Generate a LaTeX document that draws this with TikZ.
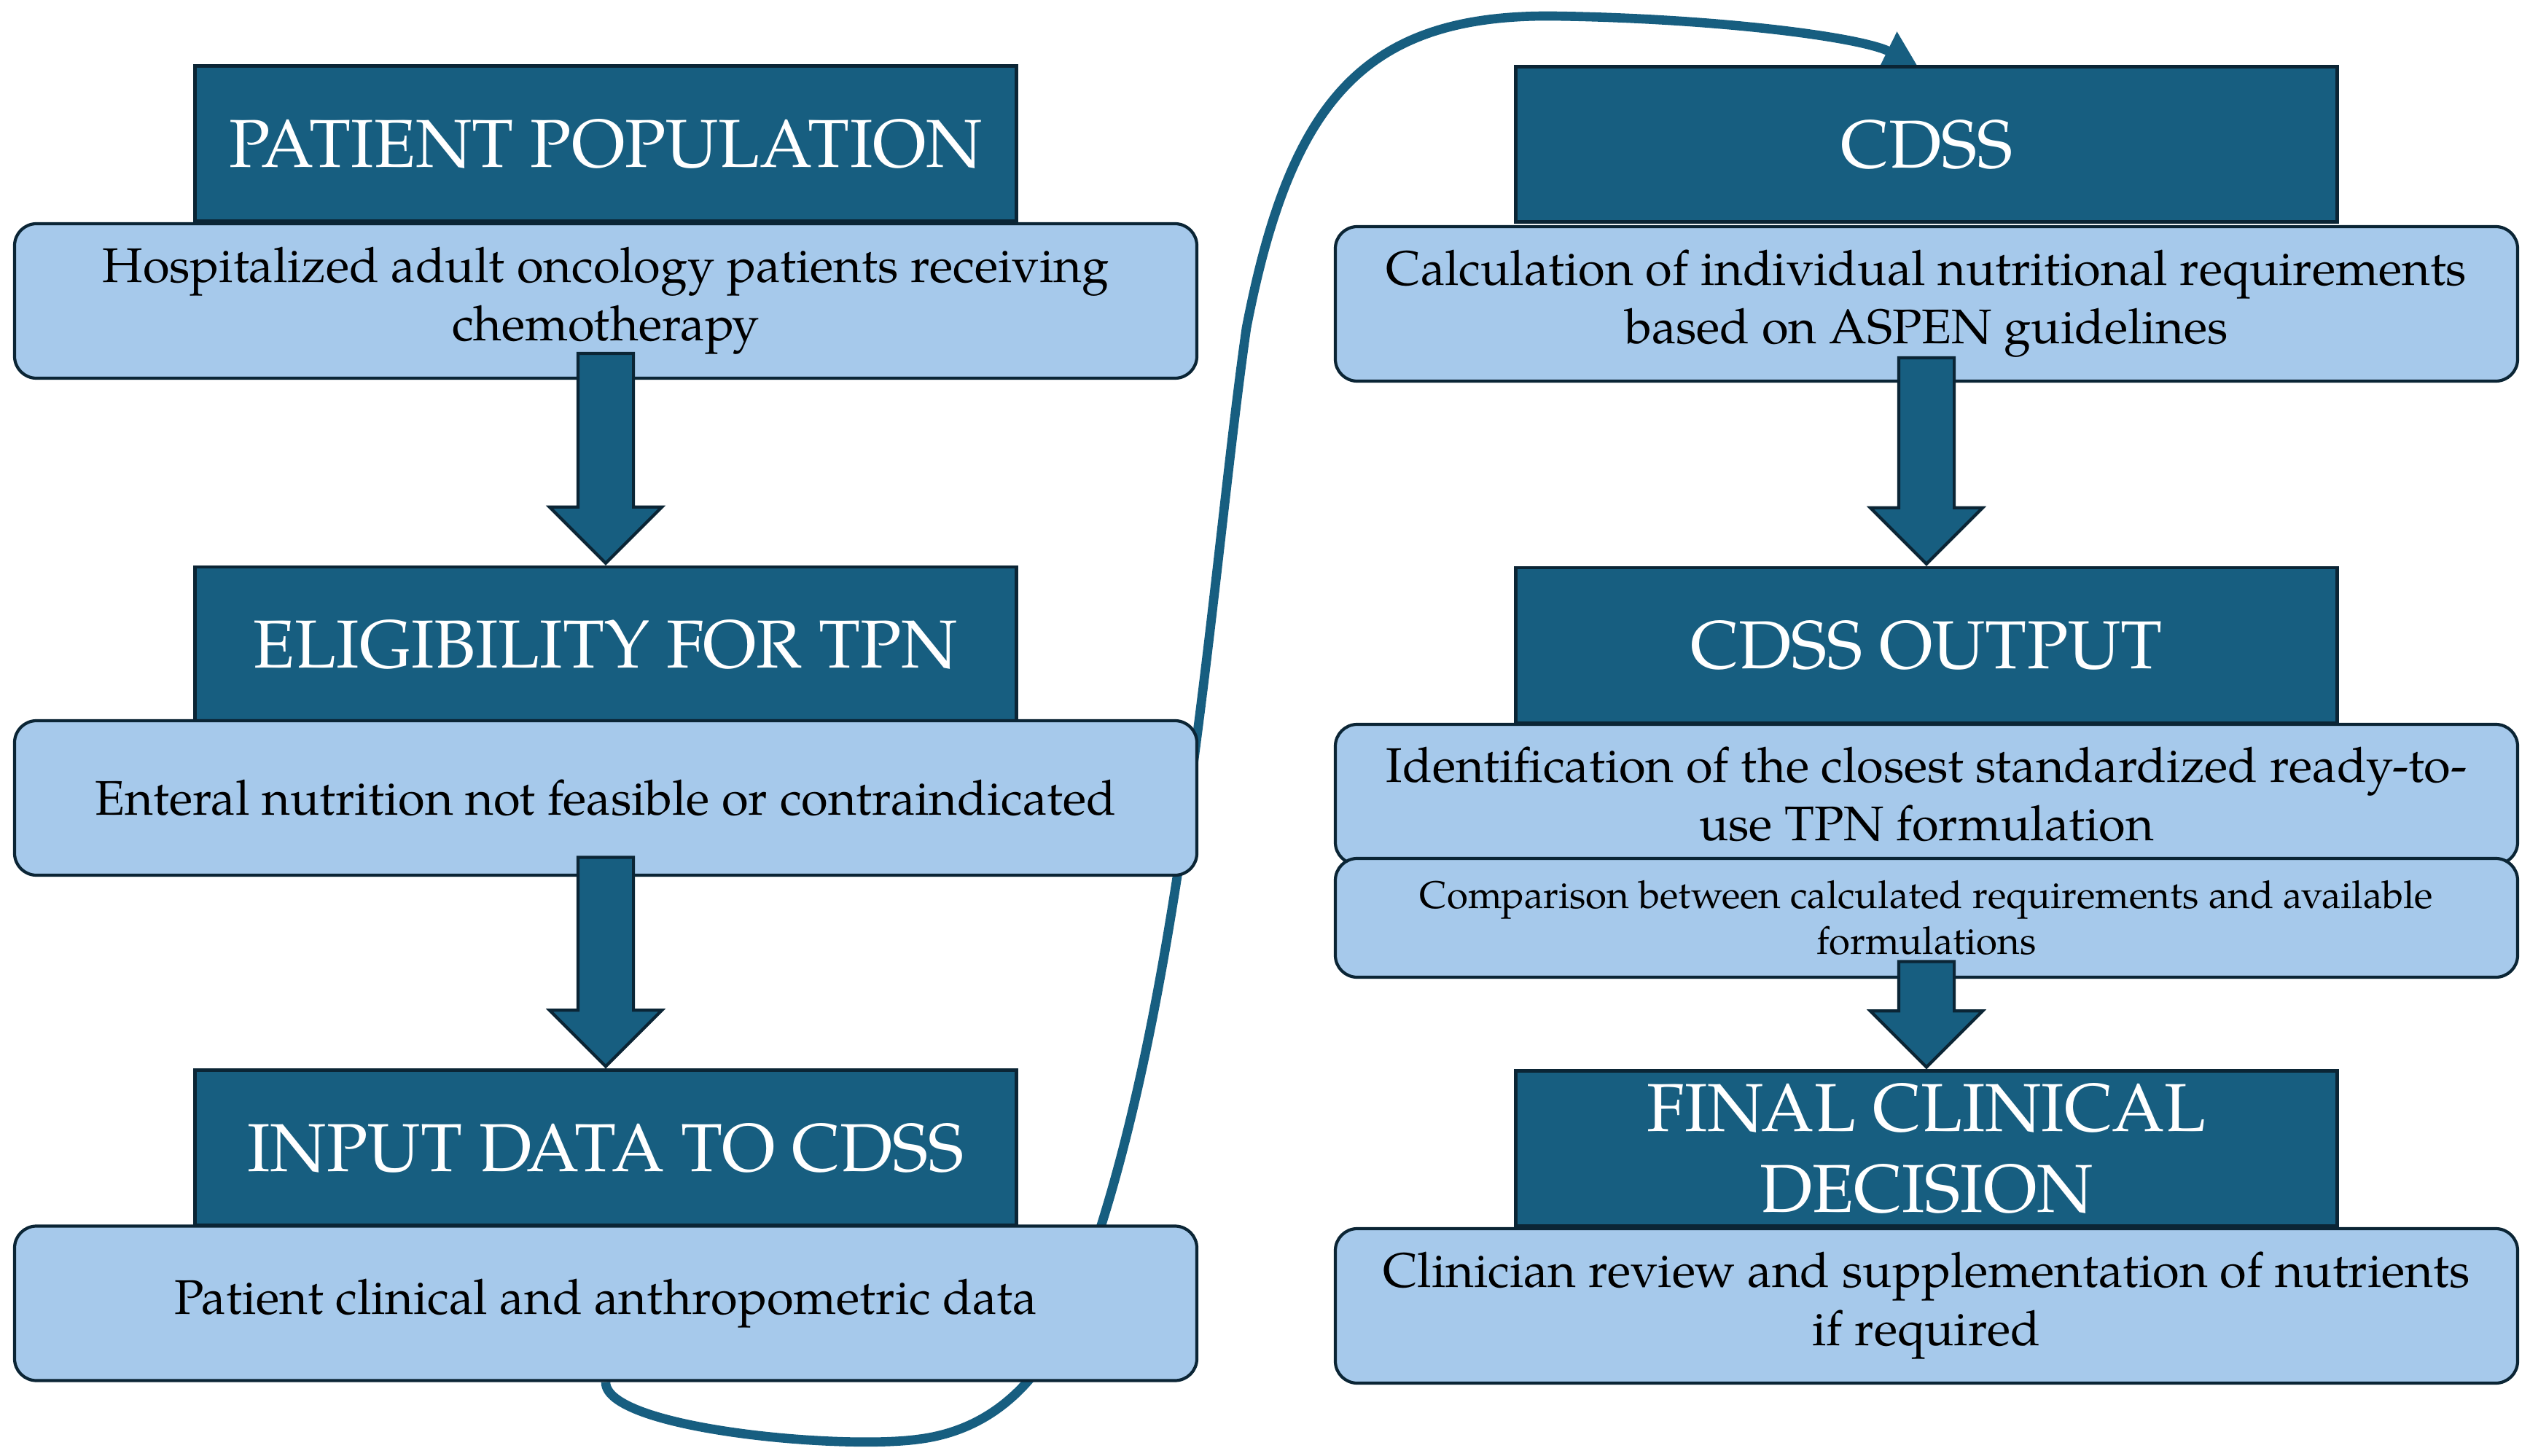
\documentclass[tikz,border=0pt]{standalone}
\usepackage{fontspec}
\setmainfont{texgyrepagella-regular.otf}
\usetikzlibrary{shapes,arrows.meta,backgrounds}

\definecolor{boxdark}{HTML}{175E80}
\definecolor{boxlight}{HTML}{A6C9EB}
\definecolor{boxedge}{HTML}{0B2535}

\begin{document}
\begin{tikzpicture}[
  head/.style={shape=rectangle,draw=boxedge,fill=boxdark,text=white,align=center,line width=1.2pt,minimum width=11.27cm,minimum height=2.13cm,inner sep=0pt,font=\fontsize{26.5}{31.5}\selectfont},
  body/.style={shape=rectangle,rounded corners=0.3cm,draw=boxedge,fill=boxlight,text=black,align=center,line width=1.2pt,minimum width=16.22cm,minimum height=2.12cm,inner sep=0pt,font=\fontsize{19}{22.8}\selectfont},
  fat/.style={shape=single arrow,shape border rotate=270,draw=boxedge,fill=boxdark,line width=1.2pt,inner sep=0.36cm,single arrow head extend=0.39cm,anchor=tip}]
\useasboundingbox (0,0) rectangle (34.71,-19.98);

% left column
\node[head] (0) at (8.31,-1.97) {PATIENT POPULATION};
\node[body] (1) at (8.31,-4.13) {Hospitalized adult oncology patients receiving\\chemotherapy};
\node[head] (2) at (8.31,-8.845) {ELIGIBILITY FOR TPN};
\node[body] (3) at (8.31,-10.95) {Enteral nutrition not feasible or contraindicated};
\node[head] (4) at (8.31,-15.75) {INPUT DATA TO CDSS};
\node[body] (5) at (8.31,-17.885) {Patient clinical and anthropometric data};

% right column
\node[head] (6) at (26.43,-1.98) {CDSS};
\node[body] (7) at (26.43,-4.17) {Calculation of individual nutritional requirements\\based on ASPEN guidelines};
\node[head] (8) at (26.43,-8.855) {CDSS OUTPUT};
\node[body,minimum height=1.92cm] (9) at (26.43,-10.9) {Identification of the closest standardized ready-to-\\use TPN formulation};
\node[body,minimum height=1.63cm,font=\fontsize{15}{18}\selectfont] (10) at (26.43,-12.595) {Comparison between calculated requirements and available\\formulations};
\node[head] (11) at (26.43,-15.76) {FINAL CLINICAL\\DECISION};
\node[body] (12) at (26.43,-17.92) {Clinician review and supplementation of nutrients\\if required};

% block arrows
\node[fat,minimum height=2.88cm] (13) at (2.north) {};
\node[fat,minimum height=2.87cm] (14) at (4.north) {};
\node[fat,minimum height=2.83cm] (15) at (8.north) {};
\node[fat,minimum height=1.45cm] (16) at (11.north) {};

% loop back to the CDSS
\begin{scope}[on background layer]
\draw[draw=boxdark,line width=3.6pt,-{Triangle[length=0.45cm,width=0.55cm]}] (5.south) .. controls (8.3,-19.6) and (11.5,-19.9) .. (12.6,-19.75)
  .. controls (13.4,-19.65) and (14.1,-19.2) .. (14.6,-18.2)
  .. controls (16.2,-14.5) and (16.6,-8) .. (17.1,-4.5)
  .. controls (17.7,-1.4) and (18.7,-0.2) .. (21.3,-0.22)
  .. controls (23.5,-0.25) and (25.5,-0.5) .. ([xshift=-0.13cm]6.north);
\end{scope}
\end{tikzpicture}
\end{document}
